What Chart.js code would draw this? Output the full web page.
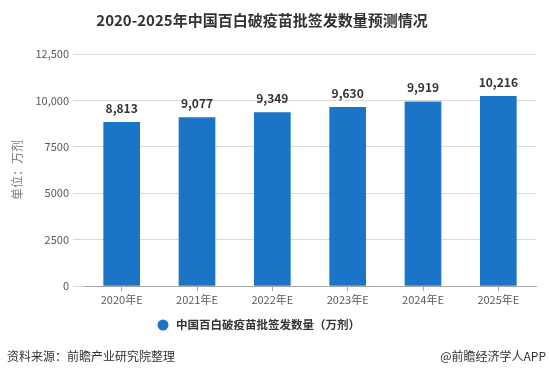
<!DOCTYPE html>
<html><head><meta charset="utf-8">
<script src="https://cdn.jsdelivr.net/npm/chart.js@4"></script>
<style>html,body{margin:0;padding:0;background:#fff}#wrap{width:549px;height:386px;position:relative}</style>
</head><body><div id="wrap"><canvas id="c" width="549" height="386"></canvas></div>
<script>
const categories = ['2020年E','2021年E','2022年E','2023年E','2024年E','2025年E'];
const values = [8813, 9077, 9349, 9630, 9919, 10216];
const valueLabels = ['8,813','9,077','9,349','9,630','9,919','10,216'];
const yTickLabels = ['0','2500','5000','7500','10,000','12,500'];
const seriesName = '中国百白破疫苗批签发数量（万剂）';
const titleText = '2020-2025年中国百白破疫苗批签发数量预测情况';
const yTitle = '单位：万剂';
const sourceText = '资料来源：前瞻产业研究院整理';
const brandText = '@前瞻经济学人APP';

const FONT = '"Noto Sans CJK SC", "Noto Sans", sans-serif';
const BLUE = '#1a75c6';

const deco = {
  id: 'deco',
  afterDatasetsDraw(chart) {
    const ctx = chart.ctx;
    const meta = chart.getDatasetMeta(0);
    ctx.save();
    ctx.font = 'bold 12px ' + FONT;
    ctx.fillStyle = '#333';
    ctx.textAlign = 'center';
    ctx.textBaseline = 'middle';
    meta.data.forEach((bar, i) => {
      ctx.fillText(valueLabels[i], bar.x, bar.y - 14);
    });
    ctx.restore();
  },
  afterDraw(chart) {
    const ctx = chart.ctx;
    ctx.save();
    ctx.textBaseline = 'middle';
    ctx.fillStyle = '#333';
    ctx.font = 'bold 15px ' + FONT;
    ctx.textAlign = 'center';
    ctx.fillText(titleText, 262, 20);
    // legend
    ctx.beginPath();
    ctx.arc(163, 325, 5.5, 0, Math.PI * 2);
    ctx.fillStyle = BLUE;
    ctx.fill();
    ctx.fillStyle = '#333';
    ctx.font = 'bold 11.5px ' + FONT;
    ctx.textAlign = 'left';
    ctx.fillText(seriesName, 176, 325);
    // footer
    ctx.font = '12px ' + FONT;
    ctx.fillStyle = '#333';
    ctx.fillText(sourceText, 7, 356);
    ctx.textAlign = 'right';
    ctx.fillText(brandText, 546, 356);
    ctx.restore();
  }
};

new Chart(document.getElementById('c'), {
  type: 'bar',
  data: {
    labels: categories,
    datasets: [{
      label: seriesName,
      data: values,
      backgroundColor: BLUE,
      barThickness: 36
    }]
  },
  options: {
    responsive: false,
    animation: false,
    layout: { padding: { top: 54, left: 10, right: 13, bottom: 0 } },
    plugins: { legend: { display: false }, title: { display: false }, tooltip: { enabled: false } },
    scales: {
      x: {
        grid: { display: true, offset: false, color: 'rgba(0,0,0,0)', tickColor: '#a6a6a6', tickLength: 5, drawOnChartArea: false },
        border: { display: true, color: '#a6a6a6' },
        ticks: { color: '#595959', font: { size: 11, family: FONT }, padding: 2, maxRotation: 0 },
        afterFit(s) { s.height = 100; }
      },
      y: {
        min: 0, max: 12500,
        afterBuildTicks(s) { s.ticks = yTickLabels.map((t, i) => ({ value: i * 2500 })); },
        grid: { color: '#d9d9d9', tickColor: '#d9d9d9', tickLength: 11 },
        border: { display: false },
        ticks: {
          color: '#595959', font: { size: 11, family: FONT }, padding: 4,
          callback(v, i) { return yTickLabels[i]; }
        },
        title: { display: true, text: yTitle, color: '#7f7f7f', font: { size: 12, family: FONT }, padding: 0 },
        afterFit(s) { s.width = 74; }
      }
    }
  },
  plugins: [deco]
});
</script></body></html>
